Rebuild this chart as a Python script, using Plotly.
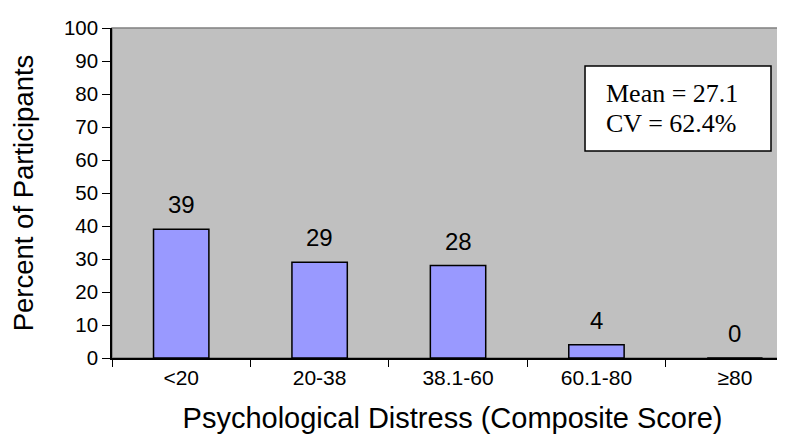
import plotly.graph_objects as go

# Data
categories = ["<20", "20-38", "38.1-60", "60.1-80", "≥80"]
percents = [39, 29, 28, 4, 0]
mean_text = "Mean = 27.1"
cv_text = "CV = 62.4%"

sans = "Liberation Sans, Arial, sans-serif"
serif = "Liberation Serif, Times New Roman, serif"

fig = go.Figure()

fig.add_trace(
    go.Bar(
        x=categories,
        y=percents,
        width=0.4,
        marker=dict(color="#9999ff", line=dict(color="black", width=1.5)),
        showlegend=False,
        hoverinfo="x+y",
    )
)

# value labels above the bars
for cat, val in zip(categories, percents):
    fig.add_annotation(
        x=cat,
        y=val,
        text=str(val),
        showarrow=False,
        yanchor="bottom",
        yshift=9,
        font=dict(family=sans, size=24, color="black"),
    )

# plot area border (gray) and the stats box
fig.add_shape(
    type="rect", xref="paper", yref="paper", x0=0, x1=1.01, y0=0, y1=1,
    line=dict(color="#808080", width=1.5), layer="below",
)
fig.add_shape(
    type="rect", xref="paper", yref="paper",
    x0=0.6946, x1=0.9677, y0=0.627, y1=0.8848,
    line=dict(color="black", width=1.5), fillcolor="white",
)
fig.add_annotation(
    xref="paper", yref="paper", x=0.722, y=0.80, xanchor="left", yanchor="middle",
    text=mean_text, showarrow=False,
    font=dict(family=serif, size=26, color="black"),
)
fig.add_annotation(
    xref="paper", yref="paper", x=0.722, y=0.71, xanchor="left", yanchor="middle",
    text=cv_text, showarrow=False,
    font=dict(family=serif, size=26, color="black"),
)

fig.update_layout(
    width=785,
    height=439,
    margin=dict(l=104, r=0, t=20, b=89),
    paper_bgcolor="white",
    plot_bgcolor="#c0c0c0",
    bargap=0.6,
    xaxis=dict(
        type="category",
        range=[-0.5, 4.42],
        automargin=False,
        tickson="boundaries",
        ticks="outside",
        ticklen=7,
        tickcolor="black",
        showline=True,
        linecolor="black",
        linewidth=1.5,
        showgrid=False,
        tickfont=dict(family=sans, size=21, color="black"),
        title=dict(
            text="Psychological Distress (Composite Score)",
            font=dict(family=sans, size=29, color="black"),
            standoff=20,
        ),
    ),
    yaxis=dict(
        range=[0, 100],
        dtick=10,
        automargin=False,
        ticks="outside",
        ticklen=8,
        tickcolor="black",
        showline=True,
        linecolor="black",
        linewidth=1.5,
        showgrid=False,
        zeroline=False,
        tickfont=dict(family=sans, size=20.5, color="black"),
        title=dict(
            text="Percent of Participants",
            font=dict(family=sans, size=27.5, color="black"),
            standoff=22,
        ),
    ),
)

fig.write_html("out.html")
